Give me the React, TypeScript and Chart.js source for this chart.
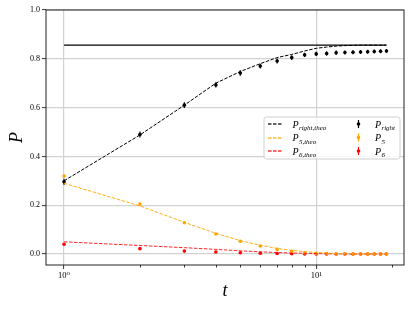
import { useEffect, useRef } from "react";
import { Chart, registerables } from "chart.js";
Chart.register(...registerables);

const FONT = "'Liberation Serif', 'DejaVu Serif', serif";

const T = [1, 2, 3, 4, 5, 6, 7, 8, 9, 10, 11, 12, 13, 14, 15, 16, 17, 18, 19];
const P_LIMIT = 0.856;

const P_RIGHT_THEO = [0.3, 0.488, 0.61, 0.7, 0.748, 0.78, 0.805, 0.818, 0.832, 0.843, 0.848, 0.852, 0.854, 0.855, 0.856, 0.856, 0.856, 0.856, 0.856];
const P5_THEO = [0.29, 0.197, 0.13, 0.085, 0.055, 0.036, 0.023, 0.015, 0.01, 0.006, 0.004, 0.002, 0.001, 0.001, 0, 0, 0, 0, 0];
const P6_THEO = [0.05, 0.035, 0.026, 0.019, 0.013, 0.009, 0.006, 0.004, 0.003, 0.002, 0.001, 0.001, 0, 0, 0, 0, 0, 0, 0];

const P_RIGHT = [0.296, 0.49, 0.61, 0.693, 0.742, 0.77, 0.791, 0.805, 0.816, 0.82, 0.822, 0.825, 0.826, 0.827, 0.828, 0.829, 0.83, 0.831, 0.832];
const P_RIGHT_ERR = [0.012, 0.012, 0.012, 0.011, 0.011, 0.01, 0.01, 0.01, 0.009, 0.009, 0.009, 0.009, 0.008, 0.008, 0.008, 0.008, 0.008, 0.008, 0.008];
const P5 = [0.32, 0.205, 0.128, 0.082, 0.052, 0.033, 0.019, 0.011, 0.005, 0.003, 0.002, 0.001, 0.001, 0, 0, 0, 0, 0, 0];
const P5_ERR = [0.005, 0.004, 0.004, 0.003, 0.003, 0.003, 0.002, 0.002, 0.002, 0.002, 0.002, 0.002, 0.002, 0.002, 0.002, 0.002, 0.002, 0.002, 0.002];
const P6 = [0.04, 0.022, 0.012, 0.008, 0.005, 0.003, 0.002, 0.001, 0, 0, 0, 0, 0, 0, 0, 0, 0, 0, 0];
const P6_ERR = [0.004, 0.004, 0.003, 0.003, 0.002, 0.002, 0.002, 0.002, 0.002, 0.002, 0.002, 0.002, 0.002, 0.002, 0.002, 0.002, 0.002, 0.002, 0.002];

const Y_TICKS = [0, 0.2, 0.4, 0.6, 0.8, 1.0];
const X_TICKS = [1, 10];
const X_MINOR = [2, 3, 4, 5, 6, 7, 8, 9, 20];

const BLACK = "#000000";
const ORANGE = "rgba(255,165,0,0.9)";
const ORANGE_PT = "#FFA500";
const RED = "rgba(255,0,0,0.85)";
const RED_PT = "#FF0000";

const pts = (ys: number[]) => T.map((t, i) => ({ x: t, y: ys[i] }));

const errorBarPlugin = {
  id: "errbars",
  afterDatasetDraw(chart: any, args: any) {
    const ds = chart.data.datasets[args.index];
    if (!ds.errors) return;
    const xs = chart.scales.x;
    const ys = chart.scales.y;
    const ctx = chart.ctx;
    const a = chart.chartArea;
    ctx.save();
    ctx.beginPath();
    ctx.rect(a.left, a.top, a.right - a.left, a.bottom - a.top);
    ctx.clip();
    ctx.strokeStyle = ds.pointBackgroundColor;
    ctx.lineWidth = 1.2;
    ds.data.forEach((p: any, i: number) => {
      const e = ds.errors[i];
      const px = xs.getPixelForValue(p.x);
      ctx.beginPath();
      ctx.moveTo(px, ys.getPixelForValue(p.y - e));
      ctx.lineTo(px, ys.getPixelForValue(p.y + e));
      ctx.stroke();
    });
    ctx.restore();
  },
};

function drawSub(ctx: CanvasRenderingContext2D, x: number, y: number, main: string, sub: string) {
  ctx.font = `italic 10px ${FONT}`;
  ctx.fillText(main, x, y);
  const w = ctx.measureText(main).width;
  ctx.font = `italic 7px ${FONT}`;
  ctx.fillText(sub, x + w + 0.3, y + 2.5);
}

function dashedSeg(ctx: CanvasRenderingContext2D, x0: number, x1: number, y: number, color: string) {
  ctx.save();
  ctx.fillStyle = color;
  let x = x0;
  while (x < x1) {
    const w = Math.min(3.5, x1 - x);
    ctx.fillRect(x, y - 0.6, w, 1.2);
    x += 5;
  }
  ctx.restore();
}

const framePlugin = {
  id: "frame",
  afterDraw(chart: any) {
    const ctx = chart.ctx as CanvasRenderingContext2D;
    const a = chart.chartArea;
    const xs = chart.scales.x;
    ctx.save();
    ctx.strokeStyle = "#000";
    ctx.lineWidth = 0.8;
    X_MINOR.forEach((v) => {
      const px = Math.round(xs.getPixelForValue(v)) + 0.5;
      ctx.beginPath();
      ctx.moveTo(px, a.bottom);
      ctx.lineTo(px, a.bottom + 2.5);
      ctx.stroke();
    });
    ctx.strokeStyle = "#222";
    ctx.lineWidth = 1;
    ctx.strokeRect(a.left, a.top, a.right - a.left, a.bottom - a.top);

    const bx = 264, by = 117, bw = 136, bh = 42, r = 2.5;
    ctx.fillStyle = "rgba(255,255,255,0.85)";
    ctx.strokeStyle = "#d0d0d0";
    ctx.lineWidth = 1;
    ctx.beginPath();
    ctx.moveTo(bx + r, by);
    ctx.lineTo(bx + bw - r, by);
    ctx.quadraticCurveTo(bx + bw, by, bx + bw, by + r);
    ctx.lineTo(bx + bw, by + bh - r);
    ctx.quadraticCurveTo(bx + bw, by + bh, bx + bw - r, by + bh);
    ctx.lineTo(bx + r, by + bh);
    ctx.quadraticCurveTo(bx, by + bh, bx, by + bh - r);
    ctx.lineTo(bx, by + r);
    ctx.quadraticCurveTo(bx, by, bx + r, by);
    ctx.closePath();
    ctx.fill();
    ctx.stroke();

    const rows = [124, 137.5, 151];
    const theo = [
      { c: BLACK, s: "right,theo" },
      { c: ORANGE_PT, s: "5,theo" },
      { c: RED_PT, s: "6,theo" },
    ];
    const data = [
      { c: BLACK, s: "right" },
      { c: ORANGE_PT, s: "5" },
      { c: RED_PT, s: "6" },
    ];
    ctx.textBaseline = "alphabetic";
    ctx.textAlign = "left";
    rows.forEach((ry, i) => {
      dashedSeg(ctx, 268, 282, Math.round(ry), theo[i].c);
      ctx.fillStyle = "#000";
      drawSub(ctx, 292.5, ry + 3.5, "P", theo[i].s);

      ctx.strokeStyle = data[i].c;
      ctx.lineWidth = 1.2;
      ctx.beginPath();
      ctx.moveTo(358.5, ry - 4);
      ctx.lineTo(358.5, ry + 4);
      ctx.stroke();
      ctx.fillStyle = data[i].c;
      ctx.beginPath();
      ctx.arc(358.5, ry, 1.8, 0, Math.PI * 2);
      ctx.fill();
      ctx.fillStyle = "#000";
      drawSub(ctx, 375, ry + 3.5, "P", data[i].s);
    });
    ctx.restore();
  },
};

export default function App() {
  const ref = useRef<HTMLCanvasElement | null>(null);
  useEffect(() => {
    document.body.style.margin = "0";
    const canvas = ref.current;
    if (!canvas) return;
    const theoDs = (ys: number[], color: string) => ({
      data: pts(ys),
      borderColor: color,
      backgroundColor: color,
      borderWidth: 1,
      borderDash: [3.5, 1.5],
      pointRadius: 0,
      tension: 0,
      fill: false,
    });
    const ptDs = (ys: number[], errs: number[], color: string) => ({
      data: pts(ys),
      errors: errs,
      showLine: false,
      borderColor: color,
      backgroundColor: color,
      pointBackgroundColor: color,
      pointBorderWidth: 0,
      pointRadius: 1.8,
      pointHoverRadius: 1.8,
    });
    const chart = new Chart(canvas, {
      type: "line",
      data: {
        datasets: [
          {
            data: [
              { x: T[0], y: P_LIMIT },
              { x: T[T.length - 1], y: P_LIMIT },
            ],
            borderColor: BLACK,
            borderWidth: 1.1,
            pointRadius: 0,
            fill: false,
          } as any,
          theoDs(P_RIGHT_THEO, BLACK),
          theoDs(P5_THEO, ORANGE),
          theoDs(P6_THEO, RED),
          ptDs(P_RIGHT, P_RIGHT_ERR, BLACK),
          ptDs(P5, P5_ERR, ORANGE_PT),
          ptDs(P6, P6_ERR, RED_PT),
        ],
      },
      options: {
        animation: false,
        responsive: false,
        devicePixelRatio: 1,
        layout: { padding: { top: 10, right: 11, left: 0, bottom: 0 } },
        plugins: { legend: { display: false }, tooltip: { enabled: false } },
        events: [],
        scales: {
          x: {
            type: "logarithmic",
            min: 0.848,
            max: 22.3,
            afterFit: (s: any) => {
              s.height = 46;
            },
            afterBuildTicks: (s: any) => {
              s.ticks = X_TICKS.map((v) => ({ value: v, major: true }));
            },
            border: { display: false },
            grid: {
              color: "#d2d2d2",
              lineWidth: 1.2,
              tickColor: "#000",
              tickLength: 4,
              tickWidth: 0.8,
            },
            ticks: {
              autoSkip: false,
              maxRotation: 0,
              padding: 2,
              color: "#000",
              font: { family: FONT, size: 8.5 },
              callback: (v: any) => (Number(v) === 1 ? "10⁰" : Number(v) === 10 ? "10¹" : ""),
            },
            title: {
              display: true,
              text: "t",
              color: "#000",
              font: { family: FONT, size: 18, style: "italic" },
              padding: { top: 0, bottom: 9 },
            },
          },
          y: {
            type: "linear",
            min: -0.045,
            max: 1.0,
            afterFit: (s: any) => {
              s.width = 46;
            },
            afterBuildTicks: (s: any) => {
              s.ticks = Y_TICKS.map((v) => ({ value: v }));
            },
            border: { display: false },
            grid: {
              color: "#d2d2d2",
              lineWidth: 1.2,
              tickColor: "#000",
              tickLength: 4,
              tickWidth: 0.8,
            },
            ticks: {
              padding: 2,
              color: "#000",
              font: { family: FONT, size: 8 },
              callback: (v: any) => Number(v).toFixed(1),
            },
            title: {
              display: true,
              text: "P",
              color: "#000",
              font: { family: FONT, size: 18, style: "italic" },
              padding: { top: 6, bottom: 0 },
            },
          },
        },
      } as any,
      plugins: [errorBarPlugin, framePlugin],
    });
    return () => chart.destroy();
  }, []);
  return (
    <div style={{ width: 415, height: 311 }}>
      <canvas ref={ref} width={415} height={311} style={{ width: 415, height: 311, display: "block" }} />
    </div>
  );
}
